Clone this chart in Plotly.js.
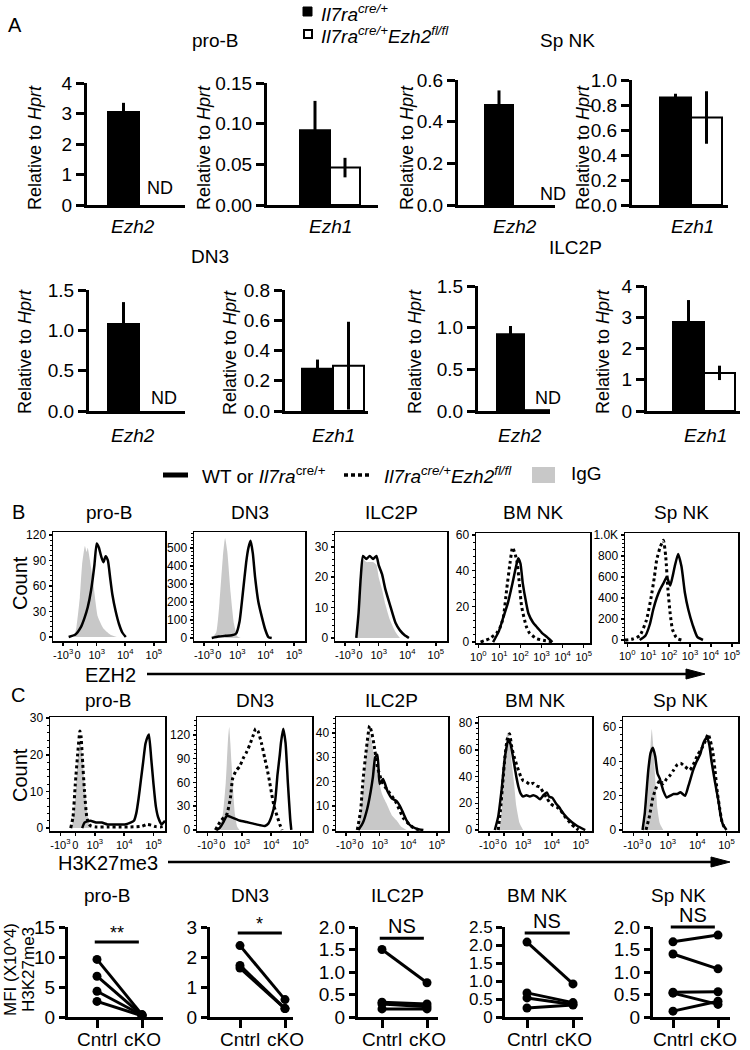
<!DOCTYPE html>
<html><head><meta charset="utf-8">
<script src="https://cdn.plot.ly/plotly-3.0.1.min.js"></script>
<style>html,body{margin:0;padding:0;background:#fff}#chart{width:750px;height:1050px}</style>
</head><body><div id="chart"></div>
<script>
// ================= DATA =================
// Panel A: qPCR relative to Hprt (cells: pro-B, Sp NK, DN3, ILC2P)
const A_cells = ["pro-B", "Sp NK", "DN3", "ILC2P"];
const A_genes = ["Ezh2", "Ezh1"];
const A_ctrl_ezh2 = [3.05, 0.48, 1.08, 0.92];
const A_ctrl_ezh2_err = [0.30, 0.07, 0.27, 0.10];
const A_cko_ezh2 = [null, null, null, 0.01];   // ND
const A_ctrl_ezh1 = [0.092, 0.86, 0.28, 2.85];
const A_ctrl_ezh1_err = [0.036, 0.03, 0.06, 0.70];
const A_cko_ezh1 = [0.046, 0.70, 0.30, 1.22];
const A_cko_ezh1_err = [0.012, 0.21, 0.29, 0.23];

// Panel B: EZH2 histograms (x in % of plot width, y = count)
const B_proB_igg_x = [19,21,24,26,28.5,30,31,33,36,40,45,51,57];
const B_proB_igg_y = [0,12,47,85,107,100,105,90,63,24,10,3,0];
const B_proB_wt_x = [14,20,25,28,31,34,37,39,41,43,45,47,49,51,53,56,59,62,65];
const B_proB_wt_y = [0,3,12,22,35,55,85,110,105,95,88,95,90,70,50,30,15,5,0];
const B_DN3_igg_x = [16,20,23,26,28,30,33,36,39,42];
const B_DN3_igg_y = [0,30,200,450,555,480,250,80,10,0];
const B_DN3_wt_x = [16,22,28,34,38,41,44,47,49,51,53,55,58,61,64,67,70];
const B_DN3_wt_y = [0,8,12,15,25,90,250,420,500,540,470,340,200,120,50,5,0];
const B_ILC2P_igg_x = [19,21,23,25,28,31,34,37,39,42,45,49,54,58];
const B_ILC2P_igg_y = [0,8,20,26,25,25,25,24,20,16,11,6,2,0];
const B_ILC2P_wt_x = [19,21,23,25,28,31,34,37,39,42,45,49,54,58,62,66];
const B_ILC2P_wt_y = [0,8,20,27,26,27,26,27,24,21,16,11,5,2.5,1,0];
const B_BMNK_ko_x = [4,12,18,21,24,27,30,32,34,36,38,40,44,47,53,59,69];
const B_BMNK_ko_y = [0,2,5,8,14,30,45,53,50,45,33,20,9,5,2,1,0];
const B_BMNK_wt_x = [15,20,24,28,32,35,37,39,41,44,46,50,54,58,62,67];
const B_BMNK_wt_y = [0,6,14,22,33,42,47,44,33,22,16,11,8,5,3,0];
const B_SpNK_ko_x = [0,7,13,19,23,26,28,31,34,36,38,40,42,45,47,50];
const B_SpNK_ko_y = [0,10,40,190,400,600,760,880,950,800,480,250,100,30,10,0];
const B_SpNK_wt_x = [13,18,22,25,28,31,34,37,40,42,44,47,50,53,56,60,64,69];
const B_SpNK_wt_y = [0,40,150,290,400,480,540,600,520,600,700,820,700,450,290,140,30,0];

// Panel C: H3K27me3 histograms
const C_proB_igg_x = [19,22,24,26,28,30,32,34,36];
const C_proB_igg_y = [0,8,18,24,20,12,5,1,0];
const C_proB_ko_x = [18,20,22,24,26,27,28,30,32,34,36,40,50,60,70,80,84,88,92,96,100];
const C_proB_ko_y = [0,3,12,20,26.5,25,20,10,3,1,0.5,0.3,0.3,0.3,0.3,0.5,1,0.8,0.4,0.3,0.5];
const C_proB_wt_x = [28,30,35,40,45,50,55,60,65,70,73,75,77,79,81,83,85,86,88,90,92,94,97,100];
const C_proB_wt_y = [0,1.5,2,1.5,1.5,1,1,1,1,1.5,2,4,8,13,18,23,25,25.5,19,12,6,3,1,2];
const C_DN3_igg_x = [18,22,25,27,28,29,31,33,35,37];
const C_DN3_igg_y = [0,15,60,115,130,110,60,20,4,0];
const C_DN3_ko_x = [16,20,24,26,29,31,34,37,40,43,46,49,51,53,56,59,61,63,65,67,70,72,74];
const C_DN3_ko_y = [0,10,17,20,40,65,75,80,90,98,108,120,128,125,110,90,77,62,45,30,16,7,0];
const C_DN3_wt_x = [17,20,23,26,30,37,43,49,55,59,62,65,68,70,72,73,75,77,79,81,82];
const C_DN3_wt_y = [0,3,10,18,16,12,10,8,6,5,8,18,37,70,95,110,128,110,60,15,0];
const C_ILC2P_igg_x = [19,22,25,28,30,32,35,38,41,45,50,54,58,63];
const C_ILC2P_igg_y = [0,8,22,36,40,36,28,21,15,11,6,4,1.5,0];
const C_ILC2P_ko_x = [19,22,24,27,30,32,34,37,41,45,50,54,60,65,69,75];
const C_ILC2P_ko_y = [0,8,20,33,43,40,35,26,20,17,14,11,5,2.5,1,0];
const C_ILC2P_wt_x = [20,24,28,31,33,35,37,39,42,46,50,54,57,60,63,66,72,78];
const C_ILC2P_wt_y = [0,3,9,16,22,30,31,19,21,16,13,12,10,7,4,2,0.5,0];
const C_BMNK_igg_x = [17,19,21,23,25,27,29,31,33,36,39];
const C_BMNK_igg_y = [0,5,25,55,73,65,50,35,18,5,0];
const C_BMNK_ko_x = [17,19,21,23,25,27,29,31,34,37,39,42,45,48,51,54,57,60,63,66,69,72,76,81,85,88];
const C_BMNK_ko_y = [0,15,35,55,68,72,62,55,47,40,37,36,34,35,33,32,28,24,20,18,17,15,10,5,2,0];
const C_BMNK_wt_x = [14,17,20,23,26,28,30,33,35,37,39,42,45,48,51,54,57,60,62,65,68,71,74,78,82,87,94];
const C_BMNK_wt_y = [0,10,30,55,68,64,55,40,32,27,25,26,25,26,25,23,26,28,25,24,20,17,13,9,6,3,0];
const C_SpNK_igg_x = [18,20,22,24,25,26,28,30,32,35];
const C_SpNK_igg_y = [0,8,25,50,59,52,30,12,4,0];
const C_SpNK_ko_x = [20,23,26,29,32,35,38,41,44,47,50,54,58,61,65,68,71,74,76,78,80,82,84,86,89];
const C_SpNK_ko_y = [0,8,19,25,29,27,30,32,35,38,39,37,35,38,44,47,51,56,52,46,35,22,13,5,0];
const C_SpNK_wt_x = [17,19,22,24,26,28,30,32,35,38,41,44,47,50,54,57,61,64,67,70,73,75,77,80,83,85,87,90];
const C_SpNK_wt_y = [0,10,35,45,48,43,33,30,23,19,20,21,21,22,20,26,35,40,44,51,54,50,40,28,17,8,3,0];

// Panel D: MFI H3K27me3 (x10^4), paired Cntrl -> cKO
const D_groups = ["Cntrl", "cKO"];
const D_cells = ["pro-B", "DN3", "ILC2P", "BM NK", "Sp NK"];
const D_proB_cntrl = [9.6, 6.8, 4.3, 2.6];
const D_proB_cko = [0.4, 0.3, 0.3, 0.2];
const D_DN3_cntrl = [2.38, 1.72, 1.63];
const D_DN3_cko = [0.58, 0.28, 0.28];
const D_ILC2P_cntrl = [1.5, 0.33, 0.29, 0.18];
const D_ILC2P_cko = [0.76, 0.29, 0.23, 0.18];
const D_BMNK_cntrl = [2.08, 0.67, 0.53, 0.25];
const D_BMNK_cko = [0.92, 0.40, 0.35, 0.33];
const D_SpNK_cntrl = [1.67, 1.40, 0.55, 0.53, 0.13];
const D_SpNK_cko = [1.82, 1.07, 0.56, 0.28, 0.35];
const D_sig = ["**", "*", "NS", "NS", "NS"];
const D_sigLevel = [12.5, 2.8, 1.75, 2.33, 2.0];

// Tick label sets
const biexVals = [9, 22, 39, 64.5, 90];
const biexText = ["-10<sup>3</sup>", "0", "10<sup>3</sup>", "10<sup>4</sup>", "10<sup>5</sup>"];
const logVals = [2, 20.5, 39, 57.5, 76, 94.5];
const logText = ["10<sup>0</sup>", "10<sup>1</sup>", "10<sup>2</sup>", "10<sup>3</sup>", "10<sup>4</sup>", "10<sup>5</sup>"];

// ================= LAYOUT HELPERS =================
const W = 750, H = 1050;
const PX = p => p / W, PY = p => 1 - p / H;
const FONT = 'Liberation Sans, Arial, Helvetica, sans-serif';
const layout = {
  width: W, height: H, margin: {l: 0, r: 0, t: 0, b: 0},
  paper_bgcolor: 'white', plot_bgcolor: 'rgba(0,0,0,0)', showlegend: false,
  font: {family: FONT, color: 'black', size: 14},
  annotations: [], shapes: []
};
const traces = [];
let nAx = 0;
function axes(box, xc, yc) {
  nAx++; const s = nAx === 1 ? '' : String(nAx);
  layout['xaxis' + s] = Object.assign({domain: [PX(box.l), PX(box.r)], anchor: 'y' + s, showgrid: false, zeroline: false, fixedrange: true, tickangle: 0}, xc);
  layout['yaxis' + s] = Object.assign({domain: [PY(box.b), PY(box.t)], anchor: 'x' + s, showgrid: false, zeroline: false, fixedrange: true, tickangle: 0}, yc);
  return {x: 'x' + s, y: 'y' + s};
}
function txt(x, y, text, size, extra) {
  layout.annotations.push(Object.assign({xref: 'paper', yref: 'paper', x: PX(x), y: PY(y), text: text,
    showarrow: false, font: {family: FONT, size: size || 19, color: 'black'}, xanchor: 'center', yanchor: 'middle'}, extra || {}));
}
function pline(x0, y0, x1, y1, w, dash, color) {
  layout.shapes.push({type: 'line', xref: 'paper', yref: 'paper', x0: PX(x0), y0: PY(y0), x1: PX(x1), y1: PY(y1),
    line: {color: color || 'black', width: w, dash: dash || 'solid'}});
}
function prect(x0, y0, x1, y1, fill, lw) {
  layout.shapes.push({type: 'rect', xref: 'paper', yref: 'paper', x0: PX(x0), y0: PY(y1), x1: PX(x1), y1: PY(y0),
    fillcolor: fill, line: {color: 'black', width: lw}});
}
function ptri(xb, yc, xt, hh) {
  layout.shapes.push({type: 'path', xref: 'paper', yref: 'paper',
    path: `M ${PX(xb)} ${PY(yc - hh)} L ${PX(xt)} ${PY(yc)} L ${PX(xb)} ${PY(yc + hh)} Z`,
    fillcolor: 'black', line: {color: 'black', width: 1}});
}

// ================= PANEL A =================
txt(15, 25, 'A', 20);
prect(303, 7, 312, 16, 'black', 1);
prect(304, 30, 312, 38, 'white', 2);
txt(319, 13, '<i>Il7ra<sup>cre/+</sup></i>', 19, {xanchor: 'left'});
txt(319, 35, '<i>Il7ra<sup>cre/+</sup>Ezh2<sup>fl/fl</sup></i>', 19, {xanchor: 'left'});
txt(215, 41, 'pro-B', 19);
txt(567, 41, 'Sp NK', 19);
txt(210, 256, 'DN3', 19);
txt(575, 248, 'ILC2P', 19);

const A_specs = [
  {cell: 0, g: 0, l: 87, r: 185, t: 83, b: 205, barL: 108, barW: 31, top: 4, dtick: 1, fmt: 'd', tx: 35, ty: 148, lx: 133, ly: 226, nd: [160, 188]},
  {cell: 0, g: 1, l: 267, r: 378, t: 83, b: 205, barL: 300, barW: 30, top: 0.15, dtick: 0.05, fmt: '.2f', tx: 204, ty: 148, lx: 330, ly: 226},
  {cell: 1, g: 0, l: 458, r: 555, t: 80, b: 205, barL: 485, barW: 28, top: 0.6, dtick: 0.2, fmt: '.1f', tx: 407, ty: 148, lx: 515, ly: 226, nd: [553, 194]},
  {cell: 1, g: 1, l: 632, r: 728, t: 80, b: 205, barL: 660, barW: 31, top: 1.0, dtick: 0.2, fmt: '.1f', tx: 583, ty: 148, lx: 692, ly: 226},
  {cell: 2, g: 0, l: 89, r: 185, t: 290, b: 411, barL: 108, barW: 31, top: 1.5, dtick: 0.5, fmt: '.1f', tx: 25, ty: 352, lx: 133, ly: 436, nd: [164, 398]},
  {cell: 2, g: 1, l: 285, r: 368, t: 290, b: 411, barL: 302, barW: 31, top: 0.8, dtick: 0.2, fmt: '.1f', tx: 230, ty: 352, lx: 333, ly: 436},
  {cell: 3, g: 0, l: 478, r: 550, t: 286, b: 411, barL: 497, barW: 27, top: 1.5, dtick: 0.5, fmt: '.1f', tx: 415, ty: 352, lx: 520, ly: 436, nd: [548, 398]},
  {cell: 3, g: 1, l: 647, r: 740, t: 286, b: 411, barL: 673, barW: 31, top: 4, dtick: 1, fmt: 'd', tx: 603, ty: 352, lx: 705, ly: 436}
];
A_specs.forEach(sp => {
  const c0 = sp.barL + sp.barW / 2;
  const xr = [-(c0 - sp.l) / sp.barW, (sp.r - c0) / sp.barW];
  const ax = axes(sp,
    {range: xr, showline: true, linewidth: 3, linecolor: 'black', ticks: '', showticklabels: false},
    {range: [0, sp.top], showline: true, linewidth: 3, linecolor: 'black', ticks: 'outside', ticklen: 8, tickwidth: 3,
     tickcolor: 'black', tick0: 0, dtick: sp.dtick, tickformat: sp.fmt, tickfont: {size: 19}});
  const ctrl = sp.g === 0 ? A_ctrl_ezh2 : A_ctrl_ezh1;
  const ctrlE = sp.g === 0 ? A_ctrl_ezh2_err : A_ctrl_ezh1_err;
  const cko = sp.g === 0 ? A_cko_ezh2 : A_cko_ezh1;
  const ckoE = sp.g === 0 ? null : A_cko_ezh1_err;
  traces.push({type: 'bar', x: [0], y: [ctrl[sp.cell]], width: [1], xaxis: ax.x, yaxis: ax.y,
    marker: {color: 'black', line: {color: 'black', width: 2}},
    error_y: {type: 'data', array: [ctrlE[sp.cell]], color: 'black', thickness: 3, width: 0}, hoverinfo: 'skip'});
  if (cko[sp.cell] !== null) {
    const t = {type: 'bar', x: [1], y: [cko[sp.cell]], width: [1], xaxis: ax.x, yaxis: ax.y,
      marker: {color: 'white', line: {color: 'black', width: 2}}, hoverinfo: 'skip'};
    if (ckoE) t.error_y = {type: 'data', array: [ckoE[sp.cell]], color: 'black', thickness: 3, width: 0};
    traces.push(t);
  }
  txt(sp.tx, sp.ty, 'Relative to <i>Hprt</i>', 18, {textangle: -90});
  txt(sp.lx, sp.ly, '<i>' + A_genes[sp.g] + '</i>', 19);
  if (sp.nd) txt(sp.nd[0], sp.nd[1], 'ND', 18);
});
layout.barmode = 'overlay';

// ================= LEGEND (B/C) =================
pline(163, 475, 188, 475, 5);
txt(200, 475, 'WT or <i>Il7ra</i><sup>cre/+</sup>', 19, {xanchor: 'left'});
pline(344, 475, 371, 475, 3.5, '4px,3px');
txt(382, 475, '<i>Il7ra<sup>cre/+</sup>Ezh2<sup>fl/fl</sup></i>', 19, {xanchor: 'left'});
prect(532, 467, 555, 483, '#c8c8c8', 0);
txt(569, 474, 'IgG', 19, {xanchor: 'left'});

// ================= HISTOGRAMS =================
function hist(box, yr, yt, ytt, xv, xt, curves, title, titleY) {
  const ax = axes(box,
    {range: [0, 100], showline: true, mirror: true, linewidth: 1.5, linecolor: 'black', ticks: 'outside', ticklen: 3,
     tickwidth: 1.5, tickcolor: 'black', tickmode: 'array', tickvals: xv, ticktext: xt, tickfont: {size: 11}, tickangle: 0},
    {range: yr, showline: true, mirror: true, linewidth: 1.5, linecolor: 'black', ticks: 'outside', ticklen: 3,
     tickwidth: 1.5, tickcolor: 'black', tickmode: 'array', tickvals: yt, ticktext: ytt || yt.map(String), tickfont: {size: 12},
     minor: {ticks: 'outside', ticklen: 2, tickcolor: 'black', tickwidth: 1, dtick: (yt[1] - yt[0]) / 5}});
  curves.forEach(c => {
    const t = {type: 'scatter', mode: 'lines', x: c.x, y: c.y, xaxis: ax.x, yaxis: ax.y, hoverinfo: 'skip', cliponaxis: true};
    if (c.k === 'igg') { t.fill = 'tozeroy'; t.fillcolor = '#c8c8c8'; t.line = {width: 0, color: '#c8c8c8', shape: 'spline', smoothing: 0.5}; }
    else if (c.k === 'ko') { t.line = {color: 'black', width: 3, dash: 'dot', shape: 'spline', smoothing: 0.5}; }
    else { t.line = {color: 'black', width: 2.5, shape: 'spline', smoothing: 0.5}; }
    traces.push(t);
  });
  txt((box.l + box.r) / 2, titleY, title, 19);
}
txt(18, 512, 'B', 20);
txt(18, 695, 'C', 20);
const rowB = {t: 532, b: 641};
hist({l: 53, r: 165, ...rowB}, [-4.7, 123.5], [0, 30, 60, 90, 120], null, biexVals, biexText,
  [{k: 'igg', x: B_proB_igg_x, y: B_proB_igg_y}, {k: 'wt', x: B_proB_wt_x, y: B_proB_wt_y}], 'pro-B', 512);
hist({l: 194, r: 305, ...rowB}, [-16.7, 589], [0, 100, 200, 300, 400, 500], null, biexVals, biexText,
  [{k: 'igg', x: B_DN3_igg_x, y: B_DN3_igg_y}, {k: 'wt', x: B_DN3_wt_x, y: B_DN3_wt_y}], 'DN3', 512);
hist({l: 335, r: 447, ...rowB}, [-1, 34.9], [0, 10, 20, 30], null, biexVals, biexText,
  [{k: 'igg', x: B_ILC2P_igg_x, y: B_ILC2P_igg_y}, {k: 'wt', x: B_ILC2P_wt_x, y: B_ILC2P_wt_y}], 'ILC2P', 512);
hist({l: 476, r: 590, t: 533, b: 643}, [-0.5, 61.1], [0, 20, 40, 60], null, logVals, logText,
  [{k: 'ko', x: B_BMNK_ko_x, y: B_BMNK_ko_y}, {k: 'wt', x: B_BMNK_wt_x, y: B_BMNK_wt_y}], 'BM NK', 512);
hist({l: 625, r: 738, t: 533, b: 642}, [-19, 1019], [0, 200, 400, 600, 800, 1000], ['0', '200', '400', '600', '800', '1.0K'], logVals, logText,
  [{k: 'ko', x: B_SpNK_ko_x, y: B_SpNK_ko_y}, {k: 'wt', x: B_SpNK_wt_x, y: B_SpNK_wt_y}], 'Sp NK', 512);

const rowC = {t: 717, b: 831};
hist({l: 50, r: 165, ...rowC}, [-0.8, 30.3], [0, 10, 20, 30], null, biexVals, biexText,
  [{k: 'igg', x: C_proB_igg_x, y: C_proB_igg_y}, {k: 'ko', x: C_proB_ko_x, y: C_proB_ko_y}, {k: 'wt', x: C_proB_wt_x, y: C_proB_wt_y}], 'pro-B', 700);
hist({l: 197, r: 312, ...rowC}, [-1.3, 142.7], [0, 30, 60, 90, 120], null, biexVals, biexText,
  [{k: 'igg', x: C_DN3_igg_x, y: C_DN3_igg_y}, {k: 'ko', x: C_DN3_ko_x, y: C_DN3_ko_y}, {k: 'wt', x: C_DN3_wt_x, y: C_DN3_wt_y}], 'DN3', 700);
hist({l: 336, r: 448, ...rowC}, [-0.4, 46.6], [0, 10, 20, 30, 40], null, biexVals, biexText,
  [{k: 'igg', x: C_ILC2P_igg_x, y: C_ILC2P_igg_y}, {k: 'ko', x: C_ILC2P_ko_x, y: C_ILC2P_ko_y}, {k: 'wt', x: C_ILC2P_wt_x, y: C_ILC2P_wt_y}], 'ILC2P', 700);
hist({l: 479, r: 592, ...rowC}, [-0.75, 84.5], [0, 20, 40, 60, 80], null, biexVals, biexText,
  [{k: 'igg', x: C_BMNK_igg_x, y: C_BMNK_igg_y}, {k: 'ko', x: C_BMNK_ko_x, y: C_BMNK_ko_y}, {k: 'wt', x: C_BMNK_wt_x, y: C_BMNK_wt_y}], 'BM NK', 700);
hist({l: 623, r: 738, ...rowC}, [-0.6, 66], [0, 20, 40, 60], null, biexVals, biexText,
  [{k: 'igg', x: C_SpNK_igg_x, y: C_SpNK_igg_y}, {k: 'ko', x: C_SpNK_ko_x, y: C_SpNK_ko_y}, {k: 'wt', x: C_SpNK_wt_x, y: C_SpNK_wt_y}], 'Sp NK', 700);

txt(20, 583, 'Count', 20, {textangle: -90});
txt(20, 775, 'Count', 20, {textangle: -90});
txt(110, 675, 'EZH2', 20);
pline(147, 674, 690, 674, 2.5);
ptri(686, 674, 705, 5);
txt(108, 863, 'H3K27me3', 20);
pline(168, 862, 715, 862, 2.5);
ptri(711, 862, 730, 5);

// ================= PANEL D =================
const D_specs = [
  {c: D_proB_cntrl, k: D_proB_cko, l: 68, r: 163, c0: 97, c1: 142, top: 15, tv: [0, 5, 10, 15], tt: ['0', '5', '10', '15'], fs: 19},
  {c: D_DN3_cntrl, k: D_DN3_cko, l: 210, r: 293, c0: 240, c1: 285, top: 3, tv: [0, 1, 2, 3], tt: ['0', '1', '2', '3'], fs: 19},
  {c: D_ILC2P_cntrl, k: D_ILC2P_cko, l: 358, r: 438, c0: 382, c1: 427, top: 2, tv: [0, 0.5, 1, 1.5, 2], tt: ['0', '0.5', '1.0', '1.5', '2.0'], fs: 19},
  {c: D_BMNK_cntrl, k: D_BMNK_cko, l: 505, r: 583, c0: 527, c1: 573, top: 2.5, tv: [0, 0.5, 1, 1.5, 2, 2.5], tt: ['0', '0.5', '1.0', '1.5', '2.0', '2.5'], fs: 17},
  {c: D_SpNK_cntrl, k: D_SpNK_cko, l: 653, r: 730, c0: 673, c1: 718, top: 2, tv: [0, 0.5, 1, 1.5, 2], tt: ['0', '0.5', '1.0', '1.5', '2.0'], fs: 19}
];
const D_titleX = [107, 250, 398, 537, 678];
D_specs.forEach((sp, i) => {
  const box = {l: sp.l, r: sp.r, t: 927, b: 1017};
  const u = sp.c1 - sp.c0;
  const xr = [-(sp.c0 - sp.l) / u, 1 + (sp.r - sp.c1) / u];
  const ax = axes(box,
    {range: xr, showline: true, linewidth: 3, linecolor: 'black', ticks: 'outside', ticklen: 8, tickwidth: 3, tickcolor: 'black',
     tickmode: 'array', tickvals: [0, 1], showticklabels: false},
    {range: [0, sp.top], showline: true, linewidth: 3, linecolor: 'black', ticks: 'outside', ticklen: 6, tickwidth: 3, tickcolor: 'black',
     tickmode: 'array', tickvals: sp.tv, ticktext: sp.tt, tickfont: {size: sp.fs}});
  sp.c.forEach((v, j) => {
    traces.push({type: 'scatter', mode: 'lines+markers', x: [0, 1], y: [v, sp.k[j]], xaxis: ax.x, yaxis: ax.y,
      line: {color: 'black', width: 3}, marker: {color: 'black', size: 9}, cliponaxis: false, hoverinfo: 'skip'});
  });
  D_groups.forEach((g, gi) => {
    layout.annotations.push({xref: ax.x, yref: 'paper', x: gi, y: PY(1039), text: g, showarrow: false,
      font: {family: FONT, size: 19, color: 'black'}, xanchor: 'center', yanchor: 'middle'});
  });
  const yPix = 1017 - (D_sigLevel[i] / sp.top) * 90;
  const x0 = sp.c0 - 0.05 * u, x1 = sp.c0 + 0.93 * u;
  pline(x0, yPix, x1, yPix, 3);
  const isStar = D_sig[i].indexOf('*') >= 0;
  txt((x0 + x1) / 2, yPix - (isStar ? 9 : 12), D_sig[i], isStar ? 18 : 20);
  txt(D_titleX[i], 895, D_cells[i], 19);
});
txt(10, 970, 'MFI (X10^4)', 17, {textangle: -90});
txt(28, 970, 'H3K27me3', 17, {textangle: -90});

Plotly.newPlot('chart', traces, layout, {staticPlot: true, displayModeBar: false});
</script>
</body></html>
